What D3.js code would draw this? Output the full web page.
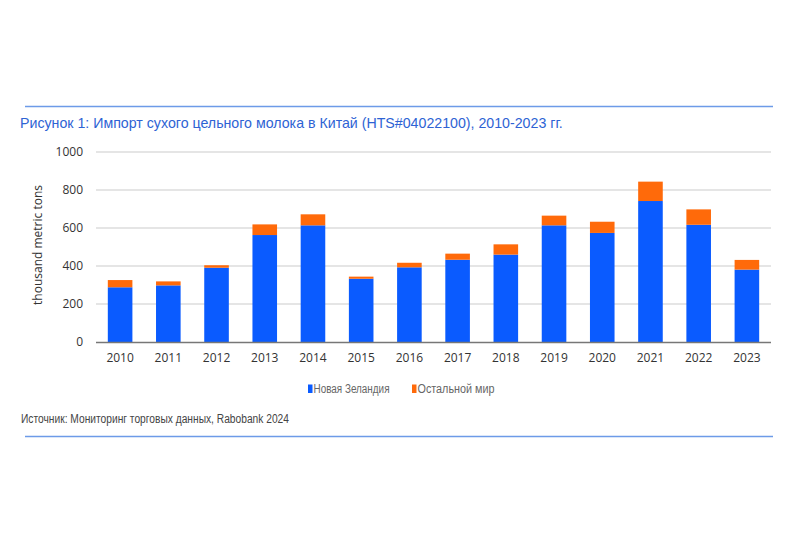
<!DOCTYPE html>
<html><head><meta charset="utf-8">
<script src="https://cdn.jsdelivr.net/npm/d3@7"></script>
<style>body{margin:0;background:#fff}svg{display:block}</style>
</head><body>
<svg id="c" width="800" height="533"></svg>
<script>
const years = ["2010","2011","2012","2013","2014","2015","2016","2017","2018","2019","2020","2021","2022","2023"];
const newZealand = [288, 298, 391, 563, 614, 333, 393, 433, 460, 614, 574, 742, 617, 381];
const restOfWorld = [38, 21, 13, 56, 58, 11, 24, 32, 54, 51, 59, 102, 81, 51];
const yTicks = [0, 200, 400, 600, 800, 1000];
const seriesNames = ["Новая Зеландия", "Остальной мир"];
const seriesColors = ["#0a5bff", "#ff6a0a"];

const svg = d3.select("#c");
const plotLeft = 96, plotRight = 771, plotTop = 152, plotBottom = 342;

const x = d3.scaleBand().domain(years).range([plotLeft, plotRight]).paddingInner(0.49).paddingOuter(0.245);
const y = d3.scaleLinear().domain([0, 1000]).range([plotBottom, plotTop]);

// frame lines
svg.append("line").attr("x1",25).attr("x2",773).attr("y1",106.5).attr("y2",106.5).attr("stroke","#6d9be8").attr("stroke-width",1.3);
svg.append("line").attr("x1",25).attr("x2",773).attr("y1",436.5).attr("y2",436.5).attr("stroke","#6d9be8").attr("stroke-width",1.3);

svg.append("text").attr("x",20).attr("y",128).attr("font-family","Liberation Sans, Arial, sans-serif")
  .attr("font-size",14.2).attr("fill","#2e63d4").text("Рисунок 1: Импорт сухого цельного молока в Китай (HTS#04022100), 2010-2023 гг.");

// grid
svg.append("g").selectAll("line").data(yTicks.filter(d=>d>0)).join("line")
  .attr("x1",plotLeft).attr("x2",plotRight).attr("y1",d=>y(d)).attr("y2",d=>y(d))
  .attr("stroke","#dcdcdc").attr("stroke-width",1.5);

// y axis labels
const yAxis = d3.axisLeft(y).tickValues(yTicks).tickSize(0).tickPadding(13).tickFormat(d3.format("d"));
const ga = svg.append("g").attr("transform",`translate(${plotLeft},0)`).call(yAxis);
ga.select(".domain").remove();
ga.selectAll("text").attr("font-family","Open Sans, sans-serif").attr("font-size",12).attr("fill","#333");

// stacked bars
const stackData = years.map((yr,i)=>({year:yr, nz:newZealand[i], row:restOfWorld[i]}));
const stack = d3.stack().keys(["nz","row"])(stackData);
svg.append("g").selectAll("g").data(stack).join("g").attr("fill",(d,i)=>seriesColors[i])
  .selectAll("rect").data(d=>d).join("rect")
  .attr("x",d=>x(d.data.year)).attr("width",x.bandwidth())
  .attr("y",d=>y(d[1])).attr("height",d=>y(d[0])-y(d[1]));

// x axis
const xAxis = d3.axisBottom(x).tickSize(0).tickPadding(11);
const gx = svg.append("g").attr("transform",`translate(0,${plotBottom})`).call(xAxis);
gx.select(".domain").remove();
gx.selectAll("text").attr("font-family","Open Sans, sans-serif").attr("font-size",12).attr("fill","#333");
svg.append("line").attr("x1",plotLeft).attr("x2",plotRight).attr("y1",plotBottom+0.5).attr("y2",plotBottom+0.5).attr("stroke","#777").attr("stroke-width",1.3);

// y title
svg.append("text").attr("transform","translate(42,245) rotate(-90)").attr("text-anchor","middle")
  .attr("font-family","Open Sans, sans-serif").attr("font-size",12).attr("fill","#333").text("thousand metric tons");

// legend
const legX = [308, 412];
const legW = [76, 77];
const lg = svg.append("g").selectAll("g").data(seriesNames).join("g").attr("transform",(d,i)=>`translate(${legX[i]},393)`);
lg.append("rect").attr("x",0).attr("y",-8.5).attr("width",4.5).attr("height",8.5).attr("fill",(d,i)=>seriesColors[i]);
lg.append("text").attr("x",5.5).attr("y",0).attr("font-family","Liberation Sans, Arial, sans-serif")
  .attr("font-size",12).attr("fill","#666").attr("textLength",(d,i)=>legW[i]).attr("lengthAdjust","spacingAndGlyphs").text(d=>d);

svg.append("text").attr("x",21).attr("y",423).attr("font-family","Liberation Sans, Arial, sans-serif")
  .attr("font-size",12.3).attr("fill","#444").attr("textLength",268).attr("lengthAdjust","spacingAndGlyphs")
  .text("Источник: Мониторинг торговых данных, Rabobank 2024");
</script>
</body></html>
